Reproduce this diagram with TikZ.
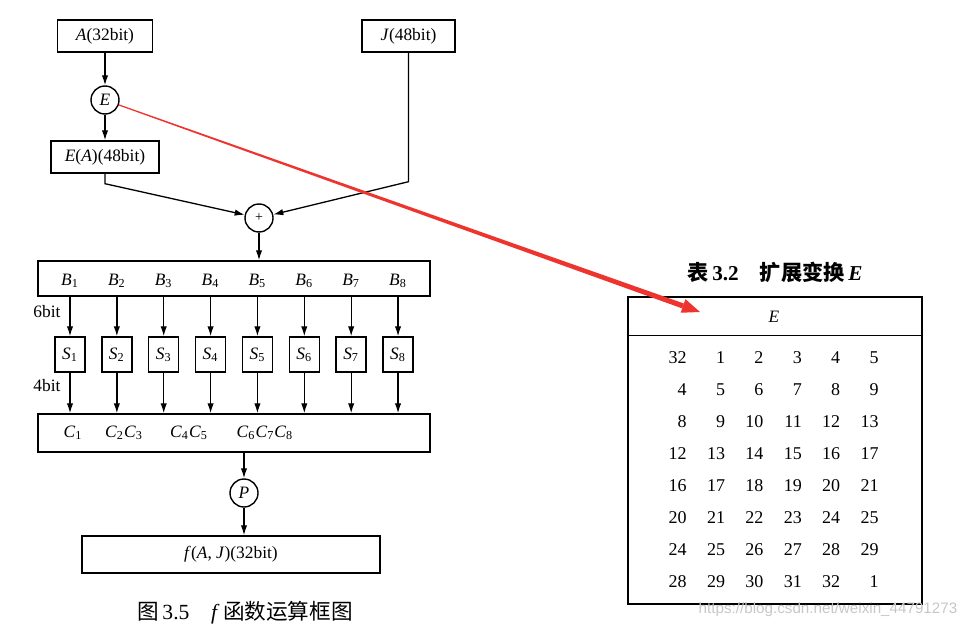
\documentclass[tikz,border=0pt]{standalone}
\usepackage{fontspec}
\setmainfont{Liberation Serif}
\newfontfamily\cjk{Noto Sans CJK SC}
\newfontfamily\wmfont{Liberation Sans}
\usepackage{xcolor}
\definecolor{markred}{RGB}{238,52,46}
\usepackage{tikz}
\usetikzlibrary{arrows.meta, positioning, calc}
\newcommand{\vsub}[2]{\textit{#1}\textsubscript{#2}}

\begin{document}
\begin{tikzpicture}[
    x=0.5pt, y=-0.5pt,
    font=\fontsize{8.7}{10}\selectfont,
    box/.style={
        rectangle, draw, line width=0.7pt,
        inner sep=0pt, align=center
    },
    circ/.style={circle, draw, line width=0.7pt, minimum size=14pt, inner sep=0pt},
    arr/.style={-{Latex[length=5pt,width=3.2pt]}, line width=0.65pt},
    lbl/.style={inner sep=0pt}
]
    \useasboundingbox (0,0) rectangle (972,631);

    % f function
    \node[box, minimum width=47.5pt, minimum height=16pt] (a) at (105,36) {\textit{A}(32bit)};
    \node[box, minimum width=46.5pt, minimum height=16pt] (j) at (408.5,36) {\textit{J}(48bit)};
    \node[circ] (e) at (105,100) {\textit{E}};
    \node[box, minimum width=54pt, minimum height=16pt] (ea) at (105,157) {\textit{E}(\textit{A})(48bit)};
    \node[circ] (plus) at (259,218) {\scriptsize +};
    \node[box, minimum width=196pt, minimum height=17.5pt] (bbox) at (234,278.5) {};
    \node[box, minimum width=196pt, minimum height=19pt] (cbox) at (234,433) {};
    \node[circ] (p) at (244,493) {\textit{P}};
    \node[box, minimum width=149pt, minimum height=18.5pt] (f) at (231,554.5) {\textit{f}(\textit{A}, \textit{J})(32bit)};

    \draw[arr] (a) -- (e);
    \draw[arr] (e) -- (ea);
    \draw[arr] (ea.south) -- ++(0,10) -- (plus);
    \draw[arr] (j.south) -- ++(0,129) -- (plus);
    \draw[arr] (plus) -- (plus |- bbox.north);

    % S boxes
    \foreach \i in {1,...,8} {
        \node[lbl] (b\i) at ({70+46.86*(\i-1)},281) {\vsub{B}{\i}};
        \node[box, minimum width=15pt, minimum height=17.5pt] (s\i) at ({70+46.86*(\i-1)},354.5) {\vsub{S}{\i}};
        \draw[arr] (b\i |- bbox.south) -- (s\i);
        \draw[arr] (s\i) -- (s\i |- cbox.north);
    }
    \node[lbl] (six) at (47,312) {6bit};
    \node[lbl] (four) at (47,386) {4bit};

    \node[lbl] (c1) at (73,433) {\vsub{C}{1}};
    \node[lbl] (c23) at (124,433) {\vsub{C}{2}\vsub{C}{3}};
    \node[lbl] (c45) at (189,433) {\vsub{C}{4}\vsub{C}{5}};
    \node[lbl] (c678) at (265,433) {\vsub{C}{6}\vsub{C}{7}\vsub{C}{8}};

    \draw[arr] (cbox.south -| p) -- (p);
    \draw[arr] (p) -- (p |- f.north);

    \node[font=\fontsize{10.8}{12}\selectfont] (cap) at (245,613) {{\cjk 图}\,3.5\quad\textit{f}\,{\cjk 函数运算框图}};

    % table E
    \node[font=\fontsize{10.6}{12}\selectfont\bfseries] (ttl) at (775,272) {{\cjk 表}\,3.2\quad{\cjk 扩展变换}\,\textit{E}};
    \node[box, line width=0.75pt, minimum width=147pt, minimum height=153.5pt] (tbl) at (775,450.5) {};
    \coordinate (rule) at (775,335);
    \draw[line width=0.5pt] (tbl.west |- rule) -- (tbl.east |- rule);
    \node[lbl] (hdr) at (774,317) {\textit{E}};
    \foreach \r in {0,...,7} {
        \foreach \c in {0,...,5} {
            \pgfmathtruncatemacro{\v}{mod(4*\r+\c+31,32)+1}
            \node[lbl, anchor=east, font=\fontsize{9}{10}\selectfont] (n\r\c) at ({687+38.4*\c},{358+32*\r}) {\v};
        }
    }
    \node[text=black!22, font=\wmfont\fontsize{7.6}{9}\selectfont] (wm) at (828,610) {https://blog.csdn.net/weixin\_44791273};

    % red pointer
    \coordinate (redtip) at (700,312);
    \coordinate (rs) at ($(e)!7.3pt!(redtip)$);
    \coordinate (rb) at ($(redtip)!9pt!(e)$);
    \fill[markred] ($(rs)!0.3pt!90:(redtip)$) -- ($(rb)!1.3pt!90:(redtip)$) -- ($(rb)!1.3pt!-90:(redtip)$) -- ($(rs)!0.3pt!-90:(redtip)$) -- cycle;
    \fill[markred] ($(rb)!3.6pt!90:(redtip)$) -- (redtip) -- ($(rb)!3.6pt!-90:(redtip)$) -- cycle;
\end{tikzpicture}
\end{document}
